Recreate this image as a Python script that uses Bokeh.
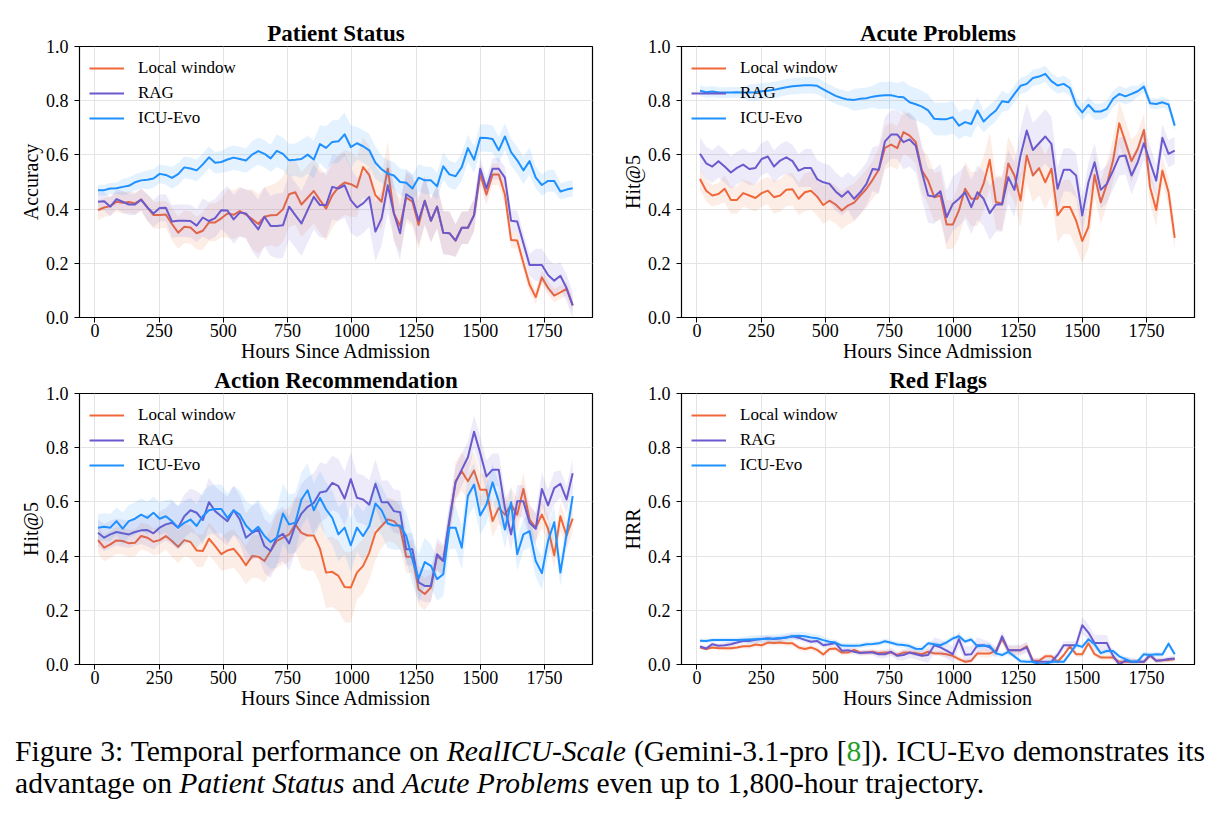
from bokeh.plotting import figure
from bokeh.layouts import column, row
from bokeh.models import (Div, ColumnDataSource, Legend, LegendItem, FixedTicker,
                          Range1d, NumeralTickFormatter)
from bokeh.embed import file_html
from bokeh.resources import INLINE

# ---------------------------------------------------------------- data
# evaluation checkpoints: once a day, hours since admission
HOURS = list(range(12, 1861, 24))

METHODS = ["Local window", "RAG", "ICU-Evo"]
COLORS = {"Local window": "#F0683A", "RAG": "#6A5ACD", "ICU-Evo": "#1E90FF"}

# ---- Patient Status (accuracy)
ps_local = [0.396, 0.406, 0.411, 0.427, 0.423, 0.426, 0.421, 0.435, 0.406, 0.378,
            0.378, 0.380, 0.345, 0.313, 0.335, 0.332, 0.311, 0.320, 0.351, 0.351,
            0.366, 0.384, 0.379, 0.393, 0.380, 0.363, 0.345, 0.372, 0.377, 0.378,
            0.399, 0.455, 0.462, 0.417, 0.442, 0.467, 0.433, 0.402, 0.451, 0.481,
            0.498, 0.492, 0.480, 0.555, 0.525, 0.451, 0.427, 0.549, 0.384, 0.338,
            0.443, 0.427, 0.341, 0.431, 0.357, 0.409, 0.313, 0.311, 0.284, 0.331,
            0.331, 0.378, 0.528, 0.454, 0.528, 0.528, 0.454, 0.286, 0.284, 0.201,
            0.121, 0.075, 0.148, 0.109, 0.081, 0.093, 0.106, 0.045]
ps_rag = [0.427, 0.429, 0.409, 0.437, 0.427, 0.417, 0.417, 0.435, 0.406, 0.384,
          0.404, 0.405, 0.354, 0.357, 0.357, 0.356, 0.339, 0.369, 0.356, 0.367,
          0.396, 0.395, 0.362, 0.387, 0.384, 0.354, 0.325, 0.372, 0.338, 0.338,
          0.340, 0.409, 0.378, 0.347, 0.396, 0.445, 0.415, 0.415, 0.482, 0.476,
          0.488, 0.433, 0.406, 0.421, 0.445, 0.317, 0.366, 0.488, 0.384, 0.311,
          0.455, 0.439, 0.357, 0.431, 0.357, 0.409, 0.313, 0.311, 0.284, 0.331,
          0.331, 0.378, 0.549, 0.476, 0.549, 0.549, 0.516, 0.357, 0.354, 0.274,
          0.194, 0.194, 0.194, 0.157, 0.136, 0.154, 0.109, 0.045]
ps_icu = [0.470, 0.470, 0.476, 0.477, 0.482, 0.486, 0.499, 0.506, 0.508, 0.513,
          0.530, 0.526, 0.515, 0.529, 0.554, 0.550, 0.543, 0.565, 0.591, 0.571,
          0.574, 0.583, 0.590, 0.585, 0.579, 0.601, 0.614, 0.604, 0.587, 0.615,
          0.604, 0.580, 0.582, 0.585, 0.601, 0.583, 0.640, 0.626, 0.648, 0.650,
          0.676, 0.629, 0.643, 0.632, 0.617, 0.571, 0.547, 0.531, 0.524, 0.500,
          0.497, 0.476, 0.516, 0.506, 0.506, 0.484, 0.558, 0.528, 0.521, 0.555,
          0.625, 0.582, 0.663, 0.662, 0.659, 0.617, 0.668, 0.610, 0.580, 0.543,
          0.577, 0.516, 0.489, 0.504, 0.504, 0.465, 0.472, 0.477]

# ---- Acute Problems (Hit@5)
ap_local = [0.511, 0.468, 0.450, 0.456, 0.475, 0.434, 0.434, 0.459, 0.450, 0.441,
            0.459, 0.468, 0.444, 0.450, 0.471, 0.473, 0.438, 0.462, 0.468, 0.446,
            0.415, 0.431, 0.417, 0.395, 0.413, 0.424, 0.450, 0.475, 0.508, 0.545,
            0.626, 0.638, 0.625, 0.684, 0.671, 0.647, 0.542, 0.505, 0.444, 0.450,
            0.343, 0.343, 0.395, 0.475, 0.438, 0.438, 0.494, 0.582, 0.426, 0.420,
            0.568, 0.524, 0.432, 0.598, 0.524, 0.551, 0.499, 0.549, 0.377, 0.408,
            0.408, 0.358, 0.282, 0.334, 0.526, 0.425, 0.493, 0.579, 0.717, 0.647,
            0.577, 0.622, 0.692, 0.481, 0.397, 0.542, 0.462, 0.294]
ap_rag = [0.604, 0.569, 0.557, 0.577, 0.557, 0.535, 0.552, 0.564, 0.548, 0.552,
          0.585, 0.594, 0.557, 0.579, 0.591, 0.577, 0.542, 0.552, 0.552, 0.511,
          0.499, 0.493, 0.465, 0.446, 0.466, 0.438, 0.462, 0.493, 0.548, 0.545,
          0.650, 0.675, 0.675, 0.647, 0.657, 0.634, 0.536, 0.450, 0.446, 0.466,
          0.370, 0.419, 0.438, 0.462, 0.407, 0.462, 0.438, 0.385, 0.417, 0.417,
          0.518, 0.471, 0.598, 0.690, 0.618, 0.643, 0.668, 0.641, 0.475, 0.545,
          0.545, 0.524, 0.376, 0.499, 0.573, 0.471, 0.493, 0.542, 0.594, 0.598,
          0.524, 0.573, 0.643, 0.573, 0.505, 0.663, 0.604, 0.616]
ap_icu = [0.837, 0.831, 0.834, 0.830, 0.830, 0.830, 0.831, 0.830, 0.830, 0.831,
          0.835, 0.837, 0.840, 0.845, 0.850, 0.853, 0.855, 0.857, 0.857, 0.855,
          0.842, 0.830, 0.818, 0.810, 0.804, 0.803, 0.807, 0.809, 0.815, 0.818,
          0.820, 0.820, 0.815, 0.813, 0.794, 0.787, 0.778, 0.764, 0.733, 0.732,
          0.732, 0.739, 0.708, 0.721, 0.714, 0.764, 0.723, 0.745, 0.764, 0.798,
          0.794, 0.825, 0.855, 0.862, 0.884, 0.889, 0.899, 0.872, 0.856, 0.862,
          0.847, 0.785, 0.757, 0.785, 0.760, 0.760, 0.770, 0.807, 0.825, 0.816,
          0.825, 0.835, 0.852, 0.791, 0.788, 0.794, 0.786, 0.708]

# ---- Action Recommendation (Hit@5)
ar_local = [0.459, 0.431, 0.443, 0.458, 0.456, 0.447, 0.449, 0.474, 0.468, 0.453,
            0.459, 0.474, 0.456, 0.434, 0.459, 0.452, 0.421, 0.419, 0.464, 0.437,
            0.407, 0.421, 0.427, 0.400, 0.366, 0.400, 0.398, 0.382, 0.419, 0.456,
            0.468, 0.480, 0.517, 0.486, 0.476, 0.476, 0.427, 0.339, 0.342, 0.327,
            0.286, 0.284, 0.339, 0.364, 0.413, 0.486, 0.511, 0.535, 0.529, 0.505,
            0.398, 0.398, 0.278, 0.260, 0.284, 0.400, 0.382, 0.523, 0.676, 0.713,
            0.676, 0.716, 0.645, 0.645, 0.529, 0.578, 0.553, 0.590, 0.553, 0.648,
            0.535, 0.505, 0.553, 0.501, 0.403, 0.547, 0.476, 0.538]
ar_rag = [0.486, 0.468, 0.480, 0.489, 0.484, 0.480, 0.489, 0.495, 0.496, 0.484,
          0.505, 0.517, 0.523, 0.505, 0.547, 0.569, 0.560, 0.533, 0.599, 0.566,
          0.547, 0.529, 0.569, 0.535, 0.468, 0.486, 0.498, 0.437, 0.419, 0.468,
          0.482, 0.447, 0.513, 0.557, 0.582, 0.596, 0.635, 0.639, 0.670, 0.658,
          0.612, 0.684, 0.615, 0.609, 0.590, 0.667, 0.599, 0.599, 0.566, 0.562,
          0.425, 0.425, 0.303, 0.290, 0.290, 0.407, 0.382, 0.535, 0.672, 0.719,
          0.765, 0.859, 0.780, 0.694, 0.719, 0.719, 0.578, 0.480, 0.602, 0.602,
          0.523, 0.501, 0.648, 0.587, 0.651, 0.667, 0.609, 0.706]
ar_icu = [0.505, 0.508, 0.505, 0.529, 0.501, 0.529, 0.538, 0.553, 0.541, 0.560,
          0.538, 0.547, 0.529, 0.505, 0.523, 0.535, 0.511, 0.547, 0.569, 0.574,
          0.574, 0.541, 0.569, 0.553, 0.513, 0.489, 0.508, 0.474, 0.452, 0.468,
          0.557, 0.517, 0.523, 0.609, 0.643, 0.569, 0.615, 0.572, 0.541, 0.480,
          0.505, 0.440, 0.505, 0.474, 0.511, 0.594, 0.569, 0.520, 0.513, 0.513,
          0.474, 0.388, 0.317, 0.378, 0.364, 0.315, 0.333, 0.505, 0.505, 0.431,
          0.623, 0.664, 0.550, 0.590, 0.672, 0.602, 0.498, 0.599, 0.407, 0.480,
          0.492, 0.382, 0.337, 0.456, 0.525, 0.339, 0.480, 0.621]

# ---- Red Flags (HRR)
rf_local = [0.063, 0.057, 0.063, 0.060, 0.060, 0.060, 0.063, 0.067, 0.067, 0.074,
            0.071, 0.081, 0.079, 0.081, 0.078, 0.078, 0.063, 0.057, 0.063, 0.054,
            0.037, 0.057, 0.059, 0.044, 0.044, 0.054, 0.044, 0.044, 0.047, 0.042,
            0.044, 0.044, 0.035, 0.044, 0.044, 0.042, 0.038, 0.047, 0.041, 0.041,
            0.038, 0.032, 0.020, 0.010, 0.014, 0.041, 0.041, 0.041, 0.051, 0.094,
            0.053, 0.053, 0.053, 0.067, 0.014, 0.014, 0.030, 0.030, 0.010, 0.035,
            0.067, 0.038, 0.038, 0.078, 0.038, 0.026, 0.026, 0.026, 0.010, 0.010,
            0.010, 0.010, 0.010, 0.032, 0.014, 0.016, 0.017, 0.020]
rf_rag = [0.067, 0.059, 0.075, 0.069, 0.071, 0.075, 0.081, 0.087, 0.087, 0.091,
          0.094, 0.097, 0.094, 0.096, 0.100, 0.104, 0.099, 0.091, 0.084, 0.087,
          0.071, 0.075, 0.079, 0.051, 0.053, 0.047, 0.042, 0.044, 0.044, 0.038,
          0.038, 0.047, 0.032, 0.035, 0.044, 0.038, 0.032, 0.035, 0.071, 0.063,
          0.051, 0.038, 0.094, 0.036, 0.038, 0.071, 0.071, 0.063, 0.044, 0.104,
          0.053, 0.053, 0.053, 0.063, 0.010, 0.010, 0.010, 0.010, 0.035, 0.071,
          0.071, 0.071, 0.145, 0.118, 0.079, 0.079, 0.079, 0.032, 0.000, 0.014,
          0.010, 0.010, 0.010, 0.035, 0.014, 0.016, 0.020, 0.022]
rf_icu = [0.088, 0.087, 0.090, 0.090, 0.090, 0.090, 0.090, 0.091, 0.092, 0.093,
          0.094, 0.095, 0.096, 0.098, 0.100, 0.104, 0.106, 0.104, 0.100, 0.097,
          0.090, 0.084, 0.081, 0.070, 0.069, 0.069, 0.070, 0.075, 0.076, 0.078,
          0.086, 0.080, 0.074, 0.072, 0.068, 0.058, 0.057, 0.078, 0.075, 0.071,
          0.082, 0.096, 0.104, 0.085, 0.092, 0.067, 0.069, 0.069, 0.041, 0.035,
          0.047, 0.030, 0.012, 0.010, 0.010, 0.001, 0.001, 0.010, 0.010, 0.010,
          0.040, 0.072, 0.065, 0.093, 0.075, 0.042, 0.050, 0.050, 0.030, 0.020,
          0.010, 0.012, 0.038, 0.035, 0.038, 0.037, 0.077, 0.038]

# across-patient spread (half width of the shaded band), one value per 100 h
ps_local_sd = [0.035, 0.04, 0.05, 0.06, 0.07, 0.09, 0.11, 0.12, 0.12, 0.12,
               0.11, 0.10, 0.09, 0.08, 0.06, 0.04, 0.03, 0.025, 0.025]
ps_rag_sd = [0.035, 0.04, 0.05, 0.06, 0.07, 0.09, 0.11, 0.12, 0.12, 0.12,
             0.11, 0.10, 0.09, 0.08, 0.06, 0.04, 0.04, 0.06, 0.05]
ps_icu_sd = [0.02, 0.03, 0.035, 0.04, 0.04, 0.045, 0.05, 0.06, 0.07, 0.08,
             0.06, 0.05, 0.05, 0.05, 0.05, 0.05, 0.05, 0.04, 0.03]
ap_local_sd = [0.04, 0.05, 0.05, 0.06, 0.07, 0.07, 0.07, 0.08, 0.08, 0.09,
               0.10, 0.10, 0.10, 0.10, 0.10, 0.08, 0.08, 0.06, 0.05]
ap_rag_sd = [0.06, 0.06, 0.06, 0.06, 0.07, 0.07, 0.08, 0.09, 0.10, 0.10,
             0.10, 0.10, 0.10, 0.10, 0.08, 0.07, 0.07, 0.06, 0.05]
ap_icu_sd = [0.02, 0.02, 0.03, 0.03, 0.03, 0.03, 0.04, 0.05, 0.06, 0.06,
             0.05, 0.04, 0.03, 0.03, 0.03, 0.03, 0.03, 0.02, 0.02]
ar_local_sd = [0.05, 0.05, 0.05, 0.06, 0.06, 0.07, 0.08, 0.10, 0.13, 0.13,
               0.10, 0.08, 0.06, 0.05, 0.07, 0.06, 0.06, 0.05, 0.05]
ar_rag_sd = [0.05, 0.05, 0.06, 0.08, 0.09, 0.09, 0.10, 0.10, 0.11, 0.10,
             0.09, 0.08, 0.06, 0.06, 0.06, 0.06, 0.06, 0.06, 0.05]
ar_icu_sd = [0.05, 0.06, 0.06, 0.08, 0.09, 0.09, 0.10, 0.11, 0.10, 0.10,
             0.09, 0.09, 0.09, 0.08, 0.08, 0.07, 0.06, 0.06, 0.05]
rf_local_sd = [0.005, 0.008, 0.01, 0.01, 0.01, 0.01, 0.01, 0.01, 0.01, 0.01,
               0.01, 0.015, 0.015, 0.01, 0.01, 0.01, 0.01, 0.01, 0.008]
rf_rag_sd = [0.008, 0.01, 0.01, 0.01, 0.01, 0.01, 0.01, 0.015, 0.02, 0.03,
             0.03, 0.02, 0.02, 0.015, 0.015, 0.03, 0.015, 0.01, 0.01]
rf_icu_sd = [0.008, 0.01, 0.015, 0.015, 0.015, 0.01, 0.01, 0.01, 0.01, 0.01,
             0.01, 0.01, 0.01, 0.01, 0.01, 0.01, 0.01, 0.01, 0.01]

X_TICKS = [0, 250, 500, 750, 1000, 1250, 1500, 1750]
Y_TICKS = [0.0, 0.2, 0.4, 0.6, 0.8, 1.0]
X_LABEL = "Hours Since Admission"

PANELS = [
    ("Patient Status", "Accuracy",
     {"Local window": (ps_local, ps_local_sd), "RAG": (ps_rag, ps_rag_sd), "ICU-Evo": (ps_icu, ps_icu_sd)}),
    ("Acute Problems", "Hit@5",
     {"Local window": (ap_local, ap_local_sd), "RAG": (ap_rag, ap_rag_sd), "ICU-Evo": (ap_icu, ap_icu_sd)}),
    ("Action Recommendation", "Hit@5",
     {"Local window": (ar_local, ar_local_sd), "RAG": (ar_rag, ar_rag_sd), "ICU-Evo": (ar_icu, ar_icu_sd)}),
    ("Red Flags", "HRR",
     {"Local window": (rf_local, rf_local_sd), "RAG": (rf_rag, rf_rag_sd), "ICU-Evo": (rf_icu, rf_icu_sd)}),
]

SERIF = "Liberation Serif"


def make_panel(title, ylabel, series, top, right):
    p = figure(frame_width=513, frame_height=271,
               x_range=Range1d(-60, 1937), y_range=Range1d(0, 1),
               output_backend="svg", toolbar_location=None,
               min_border_left=79, min_border_right=right,
               min_border_top=top, min_border_bottom=40,
               background_fill_color="white", border_fill_color="white")
    p.title.text = title
    p.title.align = "center"
    p.title.text_font = SERIF
    p.title.text_font_size = "23px"
    p.title.text_font_style = "bold"
    p.title.text_color = "black"
    p.title.standoff = 2

    p.outline_line_color = "black"
    p.outline_line_width = 1.2
    p.outline_line_alpha = 1

    for ax in (p.xaxis, p.yaxis):
        ax.axis_line_color = "black"
        ax.major_tick_line_color = "black"
        ax.major_tick_out = 5
        ax.major_tick_in = 0
        ax.minor_tick_line_color = None
        ax.major_label_text_font = SERIF
        ax.major_label_text_font_size = "18px"
        ax.major_label_text_color = "black"
        ax.axis_label_text_font = SERIF
        ax.axis_label_text_font_size = "20px"
        ax.axis_label_text_font_style = "normal"
        ax.axis_label_text_color = "black"
    p.xaxis.ticker = FixedTicker(ticks=X_TICKS)
    p.yaxis.ticker = FixedTicker(ticks=Y_TICKS)
    p.yaxis.formatter = NumeralTickFormatter(format="0.0")
    p.xaxis.axis_label = X_LABEL
    p.yaxis.axis_label = ylabel
    p.xaxis.major_label_standoff = 1
    p.yaxis.major_label_standoff = 6
    p.xaxis.axis_label_standoff = 0
    p.yaxis.axis_label_standoff = 1

    p.grid.grid_line_color = "#e4e4e4"
    p.grid.grid_line_width = 1

    items = []
    for name in METHODS:
        vals, sd = series[name]
        spread = [sd[h // 100] for h in HOURS]
        src = ColumnDataSource(dict(
            x=HOURS, y=vals,
            lo=[v - s for v, s in zip(vals, spread)],
            hi=[v + s for v, s in zip(vals, spread)]))
        p.varea(x="x", y1="lo", y2="hi", source=src,
                fill_color=COLORS[name], fill_alpha=0.12)
        r = p.line(x="x", y="y", source=src, line_color=COLORS[name],
                   line_width=2, line_join="round")
        items.append(LegendItem(label=name, renderers=[r]))

    leg = Legend(items=items, location="top_left",
                 label_text_font=SERIF, label_text_font_size="17px",
                 label_text_color="black",
                 glyph_width=35, glyph_height=24, label_height=24,
                 label_standoff=14, spacing=1, padding=8, margin=2,
                 background_fill_alpha=0, border_line_alpha=0)
    p.add_layout(leg)
    return p


p1 = make_panel(*PANELS[0], top=46, right=10)
p2 = make_panel(*PANELS[1], top=46, right=20)
p3 = make_panel(*PANELS[2], top=28, right=10)
p4 = make_panel(*PANELS[3], top=28, right=20)

caption = Div(
    text=("<div style=\"font-family:'Liberation Serif',serif;font-size:29.6px;"
          "line-height:32px;color:#000;\">"
          "<div style=\"width:1190px;white-space:nowrap;text-align:justify;"
          "text-align-last:justify;\">"
          "Figure 3: Temporal performance on <i>RealICU-Scale</i> (Gemini-3.1-pro "
          "[<span style=\"color:#1f9e1f\">8</span>]). ICU-Evo demonstrates its</div>"
          "<div style=\"white-space:nowrap;\">advantage on <i>Patient Status</i> and "
          "<i>Acute Problems</i> even up to 1,800-hour trajectory.</div></div>"),
    width=1205, height=100,
    styles={"margin-left": "15px", "margin-top": "24px"})

layout = column(row(p1, p2), row(p3, p4), caption)

with open("out.html", "w") as f:
    f.write(file_html(layout, INLINE, title="Temporal performance"))
